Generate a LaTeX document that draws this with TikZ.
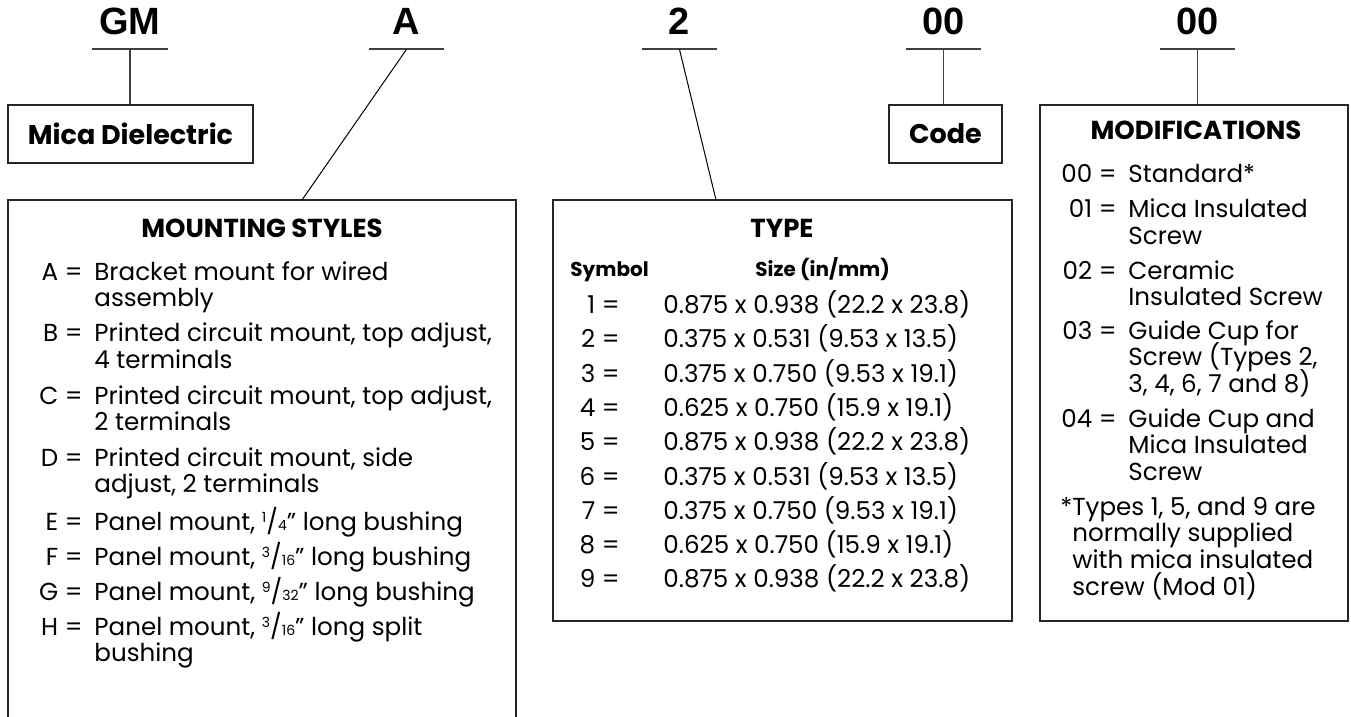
\documentclass[tikz,border=0pt]{standalone}
\usepackage{fontspec}
\setmainfont{Poppins}
\newfontfamily\partfont{Liberation Sans}

\newcommand{\frc}[2]{\raisebox{0.55ex}{\scriptsize #1}/{\scriptsize #2}}
\newcommand{\wrapped}[1]{\parbox[t]{230pt}{\raggedright\lineskiplimit=-20pt #1}}

\begin{document}
\begin{tikzpicture}[x=0.5pt,y=-0.5pt,font=\fontsize{12.3}{13.4}\selectfont]
            \tikzstyle{partno}=[font=\partfont\bfseries\fontsize{19}{19}\selectfont,inner xsep=0pt,inner ysep=7pt,text depth=0pt,minimum width=37.5pt,anchor=base]
            \tikzstyle{box}=[draw=black!85,line width=0.75pt,inner sep=0pt]
            \tikzstyle{head}=[font=\bfseries\fontsize{13}{14}\selectfont,anchor=base,inner sep=0pt]
            \tikzstyle{colhead}=[font=\bfseries\fontsize{10}{11}\selectfont,anchor=base west,inner sep=0pt]
            \tikzstyle{key}=[anchor=base east,inner sep=0pt]
            \tikzstyle{entry}=[anchor=base west,inner sep=0pt]
            \tikzstyle{uline}=[draw=black!75,line width=1pt]
            \tikzstyle{link}=[draw=black!75,line width=0.75pt]
            \tikzstyle{slant}=[draw=black,line width=0.5pt]
            \useasboundingbox (0,0) rectangle (1351,717);

            % part number
            \node[partno] (gm) at (130,35) {GM};
            \node[partno] (sty) at (406.5,35) {A};
            \node[partno] (typ) at (679.5,35) {2};
            \node[partno] (cod) at (943.5,35) {00};
            \node[partno] (mod) at (1197.5,35) {00};
            \draw[uline] (gm.south west) -- (gm.south east);
            \draw[uline] (sty.south west) -- (sty.south east);
            \draw[uline] (typ.south west) -- (typ.south east);
            \draw[uline] (cod.south west) -- (cod.south east);
            \draw[uline] (mod.south west) -- (mod.south east);

            % boxes
            \node[box,minimum width=122.5pt,minimum height=29pt,font=\bfseries\fontsize{13.5}{14}\selectfont] (mica) at (130.5,134) {Mica Dielectric};
            \node[box,minimum width=56.5pt,minimum height=29pt,font=\bfseries\fontsize{13.5}{14}\selectfont] (code) at (945.5,134) {Code};
            \node[box,minimum width=254pt,minimum height=270pt] (mount) at (262,470) {};
            \node[box,minimum width=229.5pt,minimum height=210.5pt] (type) at (782.5,410.5) {};
            \node[box,minimum width=154pt,minimum height=258pt] (mods) at (1194,363) {};

            \coordinate (mtop) at (302,200);
            \coordinate (ttop) at (716,200);
            \draw[link] (gm.south) -- (gm.south |- mica.north);
            \draw[slant] (sty.south) -- (mtop);
            \draw[slant] (typ.south) -- (ttop);
            \draw[link] (cod.south) -- (cod.south |- code.north);
            \draw[link] (mod.south) -- (mod.south |- mods.north);

            % mounting styles
            \node[head] (mounthead) at (262,238) {MOUNTING STYLES};
            \node[key] (ka) at (83,280) {A =};
            \node[entry] (ea) at (94,280) {\wrapped{Bracket mount for wired\\assembly}};
            \node[key] (kb) at (83,342) {B =};
            \node[entry] (eb) at (94,342) {\wrapped{Printed circuit mount, top adjust,\\4 terminals}};
            \node[key] (kc) at (83,404) {C =};
            \node[entry] (ec) at (94,404) {\wrapped{Printed circuit mount, top adjust,\\2 terminals}};
            \node[key] (kd) at (83,466) {D =};
            \node[entry] (ed) at (94,466) {\wrapped{Printed circuit mount, side\\adjust, 2 terminals}};
            \node[key] (ke) at (83,530) {E =};
            \node[entry] (ee) at (94,530) {Panel mount, \frc{1}{4}” long bushing};
            \node[key] (kf) at (83,565) {F =};
            \node[entry] (ef) at (94,565) {Panel mount, \frc{3}{16}” long bushing};
            \node[key] (kg) at (83,600) {G =};
            \node[entry] (eg) at (94,600) {Panel mount, \frc{9}{32}” long bushing};
            \node[key] (kh) at (83,635) {H =};
            \node[entry] (eh) at (94,635) {\wrapped{Panel mount, \frc{3}{16}” long split\\bushing}};

            % type
            \node[head] (typehead) at (782,238) {TYPE};
            \node[colhead] (symhead) at (570,277) {Symbol};
            \node[colhead] (sizehead) at (755,277) {Size (in/mm)};
            \node[key] (t1) at (620,313.5) {1 =};
            \node[entry] (s1) at (663,313.5) {0.875 x 0.938 (22.2 x 23.8)};
            \node[key] (t2) at (620,347.8) {2 =};
            \node[entry] (s2) at (663,347.8) {0.375 x 0.531 (9.53 x 13.5)};
            \node[key] (t3) at (620,382.1) {3 =};
            \node[entry] (s3) at (663,382.1) {0.375 x 0.750 (9.53 x 19.1)};
            \node[key] (t4) at (620,416.4) {4 =};
            \node[entry] (s4) at (663,416.4) {0.625 x 0.750 (15.9 x 19.1)};
            \node[key] (t5) at (620,450.7) {5 =};
            \node[entry] (s5) at (663,450.7) {0.875 x 0.938 (22.2 x 23.8)};
            \node[key] (t6) at (620,485) {6 =};
            \node[entry] (s6) at (663,485) {0.375 x 0.531 (9.53 x 13.5)};
            \node[key] (t7) at (620,519.3) {7 =};
            \node[entry] (s7) at (663,519.3) {0.375 x 0.750 (9.53 x 19.1)};
            \node[key] (t8) at (620,553.6) {8 =};
            \node[entry] (s8) at (663,553.6) {0.625 x 0.750 (15.9 x 19.1)};
            \node[key] (t9) at (620,587.9) {9 =};
            \node[entry] (s9) at (663,587.9) {0.875 x 0.938 (22.2 x 23.8)};

            % modifications
            \node[head] (modhead) at (1196,140) {MODIFICATIONS};
            \node[key] (m0) at (1117,183) {00 =};
            \node[entry] (n0) at (1128,183) {Standard*};
            \node[key] (m1) at (1117,218) {01 =};
            \node[entry] (n1) at (1128,218) {\wrapped{Mica Insulated\\Screw}};
            \node[key] (m2) at (1117,279) {02 =};
            \node[entry] (n2) at (1128,279) {\wrapped{Ceramic\\Insulated Screw}};
            \node[key] (m3) at (1117,339) {03 =};
            \node[entry] (n3) at (1128,339) {\wrapped{Guide Cup for\\Screw (Types 2,\\3, 4, 6, 7 and 8)}};
            \node[key] (m4) at (1117,427) {04 =};
            \node[entry] (n4) at (1128,427) {\wrapped{Guide Cup and\\Mica Insulated\\Screw}};
            \node[entry] (note) at (1060,515) {\wrapped{*Types 1, 5, and 9 are\\\phantom{*}normally supplied\\\phantom{*}with mica insulated\\\phantom{*}screw (Mod 01)}};
\end{tikzpicture}
\end{document}
